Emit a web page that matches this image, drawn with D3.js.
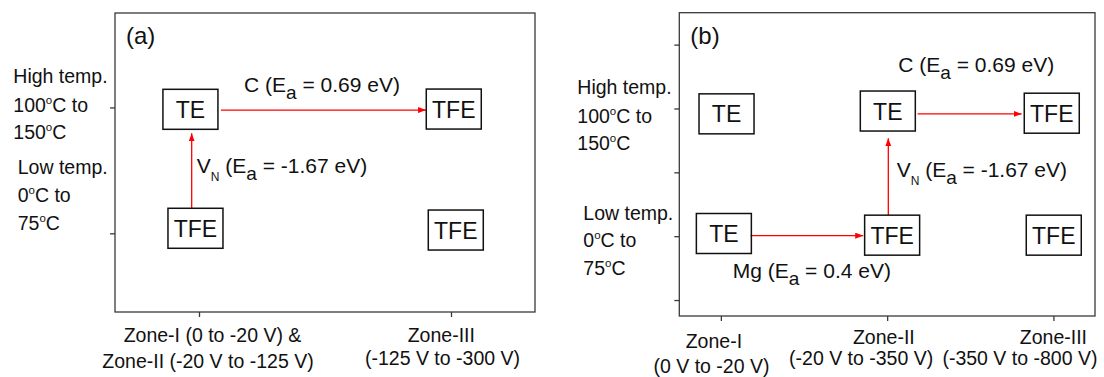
<!DOCTYPE html>
<html>
<head>
<meta charset="utf-8">
<script src="https://cdn.jsdelivr.net/npm/d3@7"></script>
<style>
  body { margin: 0; background: #fff; }
  svg { display: block; font-family: "Liberation Sans", Arial, sans-serif; }
</style>
</head>
<body>
<svg id="chart" width="1104" height="377"></svg>
<script>
// ---- data (positions in data units: x = zone index, y = 0 low temp / 1 high temp)
const tempLevels = [1, 0];
const tempLabels = [["High temp.", "100^{o}C to", "150^{o}C"], ["Low temp.", "0^{o}C to", "75^{o}C"]];

const zonesA = [["Zone-I (0 to -20 V) &", "Zone-II (-20 V to -125 V)"], ["Zone-III", "(-125 V to -300 V)"]];
const nodesA = [
  {label: "TE",  x: -0.034, y: 0.985},
  {label: "TFE", x: -0.014, y: 0.040},
  {label: "TFE", x: 1.011,  y: 0.987},
  {label: "TFE", x: 1.019,  y: 0.026}
];
const arrowsA = [
  {x0: 0.087,  y0: 0.979, x1: 0.901,  y1: 0.979},
  {x0: -0.029, y0: 0.200, x1: -0.029, y1: 0.794}
];
const notesA = [
  {text: "C (E_{a} = 0.69 eV)",      x: 0.179,  y: 1.124},
  {text: "V_{N} (E_{a} = -1.67 eV)", x: -0.009, y: 0.476}
];

const zonesB = [["Zone-I", "(0 V to -20 V)"], ["Zone-II", "(-20 V to -350 V)"], ["Zone-III", "(-350 V to -800 V)"]];
const nodesB = [
  {label: "TE",  x: 0.034, y: 0.958},
  {label: "TE",  x: 0.018, y: 0.021},
  {label: "TE",  x: 1.004, y: 0.980},
  {label: "TFE", x: 1.030, y: 0.008},
  {label: "TFE", x: 1.990, y: 0.963},
  {label: "TFE", x: 2.002, y: 0.008}
];
const arrowsB = [
  {x0: 0.179, y0: 0.004, x1: 0.856, y1: 0.004},
  {x0: 1.007, y0: 0.166, x1: 1.007, y1: 0.767},
  {x0: 1.183, y0: 0.957, x1: 1.809, y1: 0.957}
];
const notesB = [
  {text: "C (E_{a} = 0.69 eV)",      x: 1.067, y: 1.288},
  {text: "V_{N} (E_{a} = -1.67 eV)", x: 1.057, y: 0.461},
  {text: "Mg (E_{a} = 0.4 eV)",      x: 0.071, y: -0.330}
];

// ---- layout
const panels = [
  {tag: "(a)", left: 115, right: 535, top: 13, bottom: 312, xDomain: [-1 / 3, 4 / 3],
   xTicks: [0, 1], yTicks: [0, 1], zones: zonesA, nodes: nodesA, arrows: arrowsA, notes: notesA,
   zoneNudge: [[[13.5, 30], [9, 55.5]], [[-9.7, 29.7], [-8.5, 53]]],
   tempPos: [{x: 13.3, dy: [-24, 4.4, 32]}, {x: 17.7, dy: [-59.3, -31.6, -3.3]}]},
  {tag: "(b)", left: 679.3, right: 1095, top: 12.7, bottom: 316, xDomain: [-0.25, 2.25],
   xTicks: [0, 1, 2], yTicks: [-0.5, 0, 0.5, 1, 1.5], zones: zonesB, nodes: nodesB, arrows: arrowsB, notes: notesB,
   zoneNudge: [[[-7, 32.3], [-9.4, 57.3]], [[-3.3, 28], [-26, 49]], [[0, 28], [-33.5, 49]]],
   tempPos: [{x: 577.3, dy: [-14.2, 14.2, 41.5]}, {x: 583.3, dy: [-16.2, 10.5, 38.8]}]}
];

const labelSize = 19.5;
const noteSize = 21;

const svg = d3.select('#chart');
svg.append('rect').attr('width', 1104).attr('height', 377).attr('fill', '#fff');

svg.append('defs').append('marker')
  .attr('id', 'head')
  .attr('viewBox', '0 0 8 6')
  .attr('refX', 8).attr('refY', 3)
  .attr('markerWidth', 8).attr('markerHeight', 6)
  .attr('markerUnits', 'userSpaceOnUse')
  .attr('orient', 'auto')
  .append('path').attr('d', 'M0,0L8,3L0,6Z').attr('fill', '#ff0000');

// rich text: _{..} subscript, ^{..} superscript
const richText = (sel, str, size) => {
  let shift = 0;
  str.split(/(_\{[^}]*\}|\^\{[^}]*\})/).filter(s => s.length).forEach(part => {
    let t = part, fs = size, target = 0;
    if (part.startsWith('_{')) {
      t = part.slice(2, -1);
      const upper = t === t.toUpperCase();
      fs = upper ? 12 : size - 2;
      target = upper ? 8 : 7;
    } else if (part.startsWith('^{')) {
      t = part.slice(2, -1);
      fs = 11.5;
      target = -8;
    }
    sel.append('tspan')
      .attr('dy', target - shift)
      .style('font-size', fs + 'px')
      .text(t);
    shift = target;
  });
};

panels.forEach(p => {
  const x = d3.scaleLinear().domain(p.xDomain).range([p.left, p.right]);
  const y = d3.scaleLinear().domain([-0.625, 1.75]).range([p.bottom, p.top]);
  const g = svg.append('g');

  const xAxis = g.append('g')
    .attr('transform', `translate(0,${p.bottom})`)
    .call(d3.axisBottom(x).tickValues(p.xTicks).tickSize(5).tickFormat(''));
  const yAxis = g.append('g')
    .attr('transform', `translate(${p.left},0)`)
    .call(d3.axisLeft(y).tickValues(p.yTicks).tickSize(5).tickFormat(''));
  [xAxis, yAxis].forEach(a => {
    a.select('.domain').remove();
    a.selectAll('line').attr('stroke', '#3a3a3a').attr('stroke-width', 1.3);
  });

  g.append('rect')
    .attr('x', p.left).attr('y', p.top)
    .attr('width', p.right - p.left).attr('height', p.bottom - p.top)
    .attr('fill', 'none').attr('stroke', '#3a3a3a').attr('stroke-width', 1.3);

  g.append('text')
    .attr('x', p.left + 11).attr('y', p.top + 31)
    .attr('fill', '#111').style('font-size', '24px')
    .text(p.tag);

  // zone labels under x ticks
  p.zones.forEach((lines, i) => {
    lines.forEach((line, j) => {
      const [dx, dy] = p.zoneNudge[i][j];
      g.append('text')
        .attr('x', x(p.xTicks[i]) + dx).attr('y', p.bottom + dy)
        .attr('text-anchor', 'middle')
        .attr('fill', '#111').style('font-size', labelSize + 'px')
        .text(line);
    });
  });

  // temperature labels beside y ticks
  tempLevels.forEach((lv, i) => {
    const pos = p.tempPos[i];
    tempLabels[i].forEach((line, j) => {
      const t = g.append('text')
        .attr('x', pos.x).attr('y', y(lv) + pos.dy[j])
        .attr('fill', '#111').style('font-size', labelSize + 'px');
      richText(t, line, labelSize);
    });
  });

  // arrows
  g.selectAll('.arrow').data(p.arrows).enter().append('line')
    .attr('class', 'arrow')
    .attr('x1', d => x(d.x0)).attr('y1', d => y(d.y0))
    .attr('x2', d => x(d.x1)).attr('y2', d => y(d.y1))
    .attr('stroke', '#ff0000').attr('stroke-width', 1.3)
    .attr('marker-end', 'url(#head)');

  // state boxes
  const node = g.selectAll('.node').data(p.nodes).enter().append('g').attr('class', 'node');
  node.append('rect')
    .attr('x', d => x(d.x) - 27.5).attr('y', d => y(d.y) - 20)
    .attr('width', 55).attr('height', 40)
    .attr('fill', 'none').attr('stroke', '#111').attr('stroke-width', 1.5);
  node.append('text')
    .attr('x', d => x(d.x)).attr('y', d => y(d.y) + 8.5)
    .attr('text-anchor', 'middle')
    .attr('fill', '#111').style('font-size', '23px')
    .text(d => d.label);

  // activation energy notes
  p.notes.forEach(n => {
    const t = g.append('text')
      .attr('x', x(n.x)).attr('y', y(n.y))
      .attr('fill', '#111').style('font-size', noteSize + 'px');
    richText(t, n.text, noteSize);
  });
});
</script>
</body>
</html>
